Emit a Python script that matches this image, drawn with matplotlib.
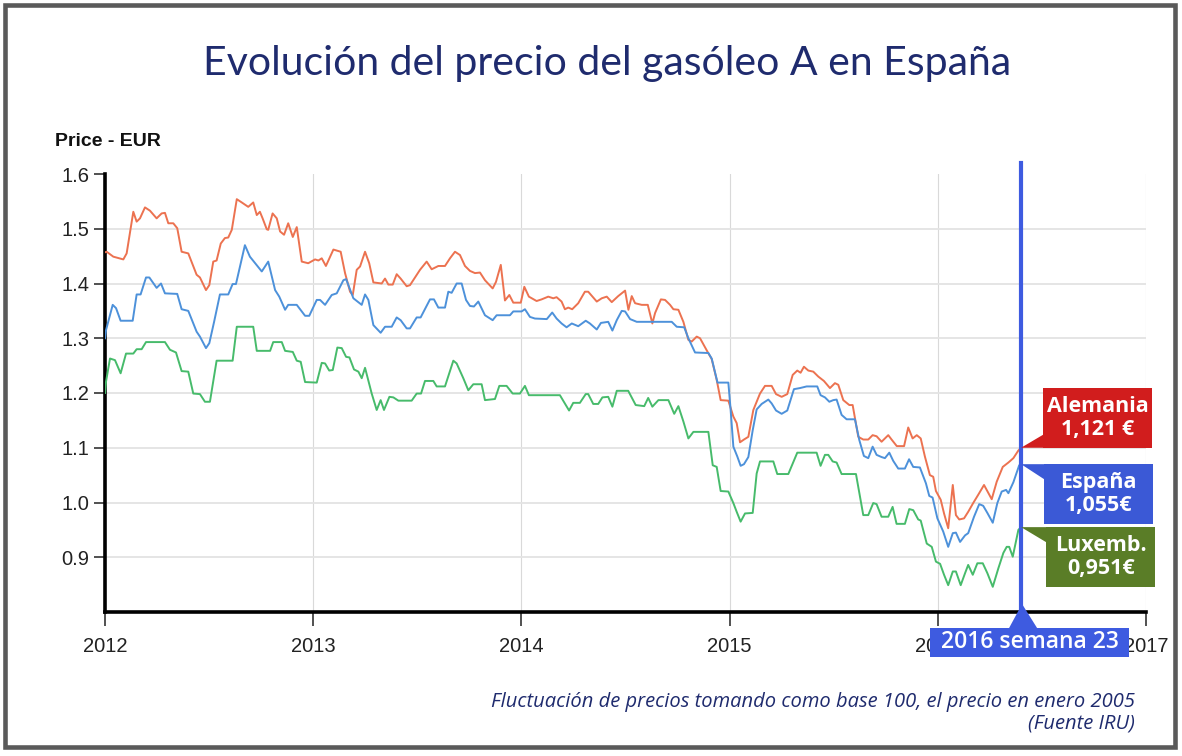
import numpy as np
import matplotlib.pyplot as plt
from matplotlib.patches import Rectangle, Polygon

# weekly diesel price (EUR/l), x in decimal years
de_year = [2012.000, 2012.008, 2012.040, 2012.088, 2012.104, 2012.136, 2012.152, 2012.168, 2012.192, 2012.216,
           2012.248, 2012.272, 2012.288, 2012.304, 2012.328, 2012.347, 2012.368, 2012.400, 2012.440, 2012.456,
           2012.485, 2012.501, 2012.520, 2012.536, 2012.556, 2012.576, 2012.592, 2012.609, 2012.633, 2012.657,
           2012.688, 2012.712, 2012.729, 2012.744, 2012.757, 2012.777, 2012.784, 2012.805, 2012.825, 2012.841,
           2012.860, 2012.880, 2012.902, 2012.921, 2012.945, 2012.976,
           2013.009, 2013.025, 2013.041, 2013.061, 2013.097, 2013.132, 2013.153, 2013.177, 2013.190, 2013.209,
           2013.225, 2013.249, 2013.269, 2013.289, 2013.329, 2013.345, 2013.361, 2013.382, 2013.401, 2013.420,
           2013.449, 2013.465, 2013.513, 2013.545, 2013.569, 2013.601, 2013.633, 2013.657, 2013.681, 2013.705,
           2013.729, 2013.753, 2013.777, 2013.801, 2013.825, 2013.862, 2013.878, 2013.901, 2013.921, 2013.942,
           2013.961, 2013.997,
           2014.014, 2014.036, 2014.073, 2014.097, 2014.129, 2014.153, 2014.169, 2014.193, 2014.209, 2014.225,
           2014.244, 2014.273, 2014.305, 2014.321, 2014.362, 2014.386, 2014.410, 2014.434, 2014.465, 2014.498,
           2014.514, 2014.530, 2014.546, 2014.578, 2014.607, 2014.629, 2014.642, 2014.670, 2014.690, 2014.714,
           2014.730, 2014.754, 2014.778, 2014.802, 2014.818, 2014.842, 2014.858, 2014.890, 2014.914, 2014.938,
           2014.957, 2014.994,
           2015.018, 2015.034, 2015.050, 2015.069, 2015.090, 2015.114, 2015.146, 2015.170, 2015.202, 2015.223,
           2015.250, 2015.277, 2015.303, 2015.325, 2015.341, 2015.357, 2015.378, 2015.402, 2015.426, 2015.453,
           2015.482, 2015.506, 2015.522, 2015.546, 2015.575, 2015.591, 2015.618, 2015.642, 2015.666, 2015.687,
           2015.706, 2015.730, 2015.762, 2015.778, 2015.803, 2015.838, 2015.858, 2015.879, 2015.899, 2015.918,
           2015.938, 2015.962, 2015.978, 2015.991,
           2016.014, 2016.030, 2016.050, 2016.072, 2016.087, 2016.103, 2016.126, 2016.146, 2016.170, 2016.194,
           2016.222, 2016.242, 2016.259, 2016.283, 2016.312, 2016.339, 2016.363, 2016.387, 2016.400]
de_price = [1.457, 1.458, 1.449, 1.444, 1.455, 1.531, 1.513, 1.519, 1.539, 1.533,
            1.519, 1.528, 1.529, 1.510, 1.510, 1.501, 1.458, 1.455, 1.416, 1.411,
            1.388, 1.397, 1.440, 1.442, 1.473, 1.483, 1.484, 1.498, 1.554, 1.548,
            1.540, 1.548, 1.525, 1.531, 1.519, 1.499, 1.498, 1.528, 1.519, 1.495,
            1.489, 1.510, 1.485, 1.503, 1.440, 1.437,
            1.444, 1.442, 1.446, 1.432, 1.462, 1.458, 1.419, 1.385, 1.379, 1.425,
            1.431, 1.458, 1.437, 1.402, 1.400, 1.409, 1.398, 1.398, 1.417, 1.409,
            1.395, 1.397, 1.425, 1.440, 1.426, 1.432, 1.432, 1.446, 1.458, 1.452,
            1.432, 1.423, 1.419, 1.420, 1.406, 1.391, 1.403, 1.434, 1.369, 1.379,
            1.365, 1.365,
            1.394, 1.376, 1.368, 1.371, 1.376, 1.373, 1.375, 1.367, 1.353, 1.356,
            1.353, 1.364, 1.385, 1.385, 1.367, 1.373, 1.376, 1.366, 1.377, 1.387,
            1.352, 1.377, 1.364, 1.361, 1.361, 1.327, 1.346, 1.371, 1.370, 1.361,
            1.353, 1.352, 1.330, 1.297, 1.294, 1.303, 1.300, 1.278, 1.262, 1.224,
            1.187, 1.186,
            1.157, 1.145, 1.110, 1.115, 1.120, 1.169, 1.199, 1.213, 1.213, 1.198,
            1.193, 1.198, 1.233, 1.241, 1.237, 1.248, 1.241, 1.239, 1.230, 1.222,
            1.209, 1.218, 1.215, 1.187, 1.178, 1.178, 1.120, 1.115, 1.115, 1.123,
            1.121, 1.111, 1.123, 1.115, 1.103, 1.103, 1.137, 1.117, 1.123, 1.117,
            1.084, 1.050, 1.047, 1.021,
            1.005, 0.980, 0.953, 1.032, 0.977, 0.969, 0.971, 0.983, 0.999, 1.014,
            1.032, 1.018, 1.006, 1.038, 1.065, 1.073, 1.081, 1.095, 1.100]

es_year = [2012.000, 2012.005, 2012.037, 2012.053, 2012.075, 2012.133, 2012.152, 2012.171, 2012.197, 2012.213,
           2012.248, 2012.269, 2012.288, 2012.347, 2012.368, 2012.400, 2012.440, 2012.456, 2012.485, 2012.501,
           2012.524, 2012.552, 2012.592, 2012.613, 2012.629, 2012.672, 2012.696, 2012.753, 2012.784, 2012.817,
           2012.837, 2012.865, 2012.880, 2012.921, 2012.961, 2012.981,
           2013.017, 2013.033, 2013.057, 2013.089, 2013.113, 2013.145, 2013.158, 2013.193, 2013.233, 2013.249,
           2013.265, 2013.289, 2013.324, 2013.345, 2013.377, 2013.401, 2013.420, 2013.449, 2013.465, 2013.497,
           2013.516, 2013.561, 2013.580, 2013.601, 2013.633, 2013.649, 2013.665, 2013.689, 2013.713, 2013.734,
           2013.753, 2013.772, 2013.793, 2013.825, 2013.862, 2013.881, 2013.945, 2013.961,
           2014.001, 2014.017, 2014.041, 2014.065, 2014.122, 2014.148, 2014.169, 2014.193, 2014.217, 2014.242,
           2014.273, 2014.309, 2014.329, 2014.362, 2014.382, 2014.417, 2014.437, 2014.458, 2014.482, 2014.498,
           2014.522, 2014.554, 2014.722, 2014.746, 2014.782, 2014.802, 2014.834, 2014.898, 2014.914, 2014.942,
           2014.994,
           2015.005, 2015.018, 2015.037, 2015.053, 2015.069, 2015.090, 2015.111, 2015.130, 2015.154, 2015.170,
           2015.186, 2015.202, 2015.223, 2015.250, 2015.277, 2015.309, 2015.338, 2015.370, 2015.421, 2015.437,
           2015.458, 2015.479, 2015.498, 2015.514, 2015.538, 2015.562, 2015.602, 2015.623, 2015.645, 2015.666,
           2015.687, 2015.706, 2015.730, 2015.746, 2015.767, 2015.786, 2015.810, 2015.842, 2015.862, 2015.882,
           2015.914, 2015.943, 2015.959, 2015.975, 2015.998,
           2016.026, 2016.050, 2016.072, 2016.087, 2016.107, 2016.131, 2016.146, 2016.174, 2016.199, 2016.218,
           2016.238, 2016.264, 2016.286, 2016.307, 2016.328, 2016.339, 2016.363, 2016.391, 2016.400]
es_price = [1.300, 1.315, 1.361, 1.355, 1.332, 1.332, 1.380, 1.380, 1.411, 1.411,
            1.392, 1.400, 1.382, 1.381, 1.353, 1.350, 1.312, 1.303, 1.282, 1.291,
            1.330, 1.380, 1.380, 1.399, 1.399, 1.470, 1.449, 1.422, 1.440, 1.388,
            1.376, 1.352, 1.361, 1.361, 1.341, 1.341,
            1.370, 1.370, 1.361, 1.379, 1.382, 1.406, 1.408, 1.373, 1.361, 1.380,
            1.370, 1.324, 1.310, 1.321, 1.321, 1.338, 1.333, 1.318, 1.318, 1.338,
            1.338, 1.371, 1.371, 1.356, 1.356, 1.385, 1.383, 1.400, 1.400, 1.370,
            1.359, 1.358, 1.367, 1.342, 1.333, 1.342, 1.342, 1.349,
            1.349, 1.353, 1.339, 1.336, 1.335, 1.347, 1.336, 1.327, 1.320, 1.327,
            1.322, 1.332, 1.327, 1.316, 1.328, 1.330, 1.314, 1.333, 1.350, 1.349,
            1.335, 1.330, 1.330, 1.321, 1.320, 1.300, 1.274, 1.273, 1.263, 1.219,
            1.219,
            1.169, 1.102, 1.084, 1.067, 1.070, 1.083, 1.132, 1.170, 1.180, 1.184,
            1.188, 1.181, 1.168, 1.162, 1.168, 1.207, 1.209, 1.212, 1.212, 1.196,
            1.192, 1.184, 1.187, 1.188, 1.160, 1.152, 1.152, 1.114, 1.085, 1.081,
            1.102, 1.087, 1.083, 1.081, 1.091, 1.076, 1.062, 1.062, 1.079, 1.065,
            1.064, 1.035, 1.012, 1.009, 0.971,
            0.947, 0.919, 0.944, 0.945, 0.928, 0.940, 0.944, 0.974, 0.997, 0.994,
            0.981, 0.963, 0.999, 1.020, 1.023, 1.017, 1.037, 1.068, 1.070]

lu_year = [2012.000, 2012.005, 2012.024, 2012.048, 2012.075, 2012.101, 2012.136, 2012.152, 2012.176, 2012.197,
           2012.288, 2012.312, 2012.341, 2012.368, 2012.400, 2012.424, 2012.456, 2012.480, 2012.504, 2012.536,
           2012.613, 2012.633, 2012.712, 2012.729, 2012.793, 2012.808, 2012.849, 2012.865, 2012.902, 2012.921,
           2012.940, 2012.961,
           2013.017, 2013.041, 2013.057, 2013.077, 2013.094, 2013.116, 2013.137, 2013.158, 2013.174, 2013.196,
           2013.217, 2013.233, 2013.249, 2013.281, 2013.305, 2013.324, 2013.340, 2013.366, 2013.385, 2013.409,
           2013.473, 2013.497, 2013.518, 2013.537, 2013.577, 2013.593, 2013.633, 2013.673, 2013.689, 2013.721,
           2013.745, 2013.769, 2013.809, 2013.825, 2013.873, 2013.894, 2013.929, 2013.958, 2013.993,
           2014.017, 2014.036, 2014.185, 2014.229, 2014.249, 2014.281, 2014.309, 2014.321, 2014.345, 2014.369,
           2014.389, 2014.417, 2014.437, 2014.458, 2014.513, 2014.549, 2014.590, 2014.609, 2014.629, 2014.658,
           2014.706, 2014.734, 2014.754, 2014.778, 2014.802, 2014.826, 2014.898, 2014.919, 2014.938, 2014.957,
           2014.994,
           2015.018, 2015.034, 2015.053, 2015.074, 2015.111, 2015.130, 2015.146, 2015.210, 2015.229, 2015.282,
           2015.325, 2015.418, 2015.437, 2015.458, 2015.474, 2015.495, 2015.514, 2015.538, 2015.607, 2015.642,
           2015.666, 2015.690, 2015.706, 2015.730, 2015.762, 2015.783, 2015.802, 2015.842, 2015.863, 2015.882,
           2015.906, 2015.918, 2015.947, 2015.971, 2015.991,
           2016.011, 2016.030, 2016.050, 2016.072, 2016.087, 2016.110, 2016.131, 2016.146, 2016.168, 2016.190,
           2016.216, 2016.238, 2016.264, 2016.291, 2016.315, 2016.331, 2016.343, 2016.360, 2016.387, 2016.400]
lu_price = [1.200, 1.221, 1.263, 1.260, 1.236, 1.272, 1.272, 1.280, 1.280, 1.293,
            1.293, 1.279, 1.274, 1.240, 1.239, 1.199, 1.198, 1.184, 1.184, 1.259,
            1.259, 1.321, 1.321, 1.277, 1.277, 1.293, 1.293, 1.277, 1.275, 1.259,
            1.257, 1.220,
            1.219, 1.255, 1.254, 1.241, 1.242, 1.283, 1.282, 1.266, 1.265, 1.243,
            1.239, 1.227, 1.246, 1.199, 1.169, 1.187, 1.169, 1.193, 1.192, 1.186,
            1.186, 1.199, 1.199, 1.222, 1.222, 1.212, 1.212, 1.259, 1.254, 1.227,
            1.205, 1.216, 1.216, 1.187, 1.189, 1.213, 1.213, 1.199, 1.199,
            1.213, 1.196, 1.196, 1.168, 1.182, 1.182, 1.198, 1.198, 1.180, 1.180,
            1.192, 1.193, 1.175, 1.204, 1.204, 1.178, 1.176, 1.191, 1.175, 1.187,
            1.187, 1.162, 1.176, 1.148, 1.117, 1.129, 1.129, 1.068, 1.065, 1.021,
            1.020,
            0.999, 0.983, 0.965, 0.980, 0.981, 1.053, 1.075, 1.075, 1.052, 1.052,
            1.091, 1.091, 1.067, 1.087, 1.087, 1.075, 1.073, 1.052, 1.052, 0.977,
            0.977, 0.999, 0.997, 0.974, 0.974, 0.992, 0.961, 0.961, 0.988, 0.986,
            0.969, 0.967, 0.925, 0.919, 0.892,
            0.888, 0.868, 0.849, 0.874, 0.874, 0.849, 0.871, 0.886, 0.868, 0.889,
            0.889, 0.871, 0.846, 0.880, 0.908, 0.919, 0.919, 0.901, 0.950, 0.955]

week_x = 2016.40          # 2016 semana 23
week_label = '2016 semana 23'
flag_texts = ['Alemania\n1,121 €', 'España\n1,055€', 'Luxemb.\n0,951€']
year_ticks = [2012, 2013, 2014, 2015, 2016, 2017]
price_ticks = [0.9, 1.0, 1.1, 1.2, 1.3, 1.4, 1.5, 1.6]

W, H = 1182, 756
navy = '#1f2b6e'
c_de, c_es, c_lu = '#ec7250', '#4d91da', '#47bb6b'
f_de, f_es, f_lu = '#d11d1d', '#3b59d6', '#5a7d27'
c_week = '#3e5be0'

fig = plt.figure(figsize=(W / 100, H / 100), dpi=100)
ax = fig.add_axes([105 / W, 1 - 612 / H, (1146 - 105) / W, (612 - 174) / H])

ax.plot(de_year, de_price, color=c_de, lw=1.4, zorder=3)
ax.plot(es_year, es_price, color=c_es, lw=1.4, zorder=3)
ax.plot(lu_year, lu_price, color=c_lu, lw=1.4, zorder=3)

ax.set_xlim(2012, 2017)
ax.set_ylim(0.8, 1.6)
ax.set_xticks(year_ticks)
ax.set_xticklabels([str(y) for y in year_ticks])
ax.set_yticks(price_ticks)
ax.set_yticklabels([f'{p:.1f}' for p in price_ticks])
ax.grid(axis='y', color='#e3e3e3', lw=1.3, zorder=0)
ax.grid(axis='x', color='#d9d9d9', lw=0.8, zorder=0)
ax.yaxis.get_gridlines()[-1].set_visible(False)
for s in ['top', 'right']:
    ax.spines[s].set_visible(False)
for s in ['left', 'bottom']:
    ax.spines[s].set_linewidth(2.6)
    ax.spines[s].set_color('black')
ax.tick_params(axis='y', length=8, width=1.2, color='#333333', pad=3.5,
               labelsize=14.5, labelcolor='#222222')
ax.tick_params(axis='x', length=10, width=1.2, color='#333333', pad=8,
               labelsize=14.5, labelcolor='#222222')
for lab in ax.get_xticklabels() + ax.get_yticklabels():
    lab.set_family('Liberation Sans')

# week marker line
ax.axvline(week_x, ymin=-0.037, ymax=1.025, color=c_week, lw=3, clip_on=False, zorder=6)

fig.text(55 / W, 1 - 141 / H, 'Price - EUR', family='Liberation Sans', weight='bold',
         fontsize=14, ha='left', va='center', color='#111111')
fig.text(0.514, 1 - 64 / H, 'Evolución del precio del gasóleo A en España', family='Lato',
         fontsize=29.5, ha='center', va='center', color=navy)
fig.text(1135 / W, 1 - 702 / H,
         'Fluctuación de precios tomando como base 100, el precio en enero 2005',
         family='Open Sans', style='italic', fontsize=14.5, ha='right', va='center', color=navy)
fig.text(1135 / W, 1 - 723 / H, '(Fuente IRU)', family='Open Sans', style='italic',
         fontsize=14.5, ha='right', va='center', color=navy)

# outer frame
fig.patches.append(Rectangle((5 / W, 1 - 747 / H), (1174.5 - 5) / W, (747 - 5) / H,
                             transform=fig.transFigure, fill=False, lw=3.3,
                             edgecolor='#5a5a5a', zorder=10))

# value flags at the end of each series (pixel layout, tip on the line end)
fig.canvas.draw()
tx = ax.transData.transform((week_x, 1.0))[0]


def flag(value, above, color, text, dx):
    ty = ax.transData.transform((week_x, value))[1]
    bx, bw, bh = tx + dx, 109, 60
    by = ty if above else ty - bh
    tri = [(tx, ty), (bx, ty + 13 if above else ty - 15), (bx, ty)]
    fig.patches.append(Polygon(tri, closed=True, transform=None, facecolor=color,
                               edgecolor='none', zorder=8))
    fig.patches.append(Rectangle((bx - 0.5, by), bw, bh, transform=None, facecolor=color,
                                 edgecolor='none', zorder=8))
    fig.text((bx + bw / 2) / W, (by + bh / 2) / H, text, family='Open Sans', weight='bold',
             fontsize=15.5, ha='center', va='center', color='white', linespacing=1.15,
             zorder=9)


flag(de_price[-1], True, f_de, flag_texts[0], 22)
flag(es_price[-1], False, f_es, flag_texts[1], 23)
flag(lu_price[-1], False, f_lu, flag_texts[2], 25)

# week label under the axis (covers the 2016 tick label, as in the original)
by = H - 657
fig.patches.append(Polygon([(tx + 1, H - 604), (tx - 12, H - 628), (tx + 16, H - 628)],
                           closed=True, transform=None, facecolor=c_week,
                           edgecolor='none', zorder=8))
fig.patches.append(Rectangle((tx - 91, by), 199, 29, transform=None, facecolor=c_week,
                             edgecolor='none', zorder=8))
fig.text((tx + 8.5) / W, (by + 14.5) / H, week_label, family='Open Sans', weight='semibold',
         fontsize=16.5, ha='center', va='center', color='white', zorder=9)

fig.savefig('out.png', dpi=100, facecolor='white')
